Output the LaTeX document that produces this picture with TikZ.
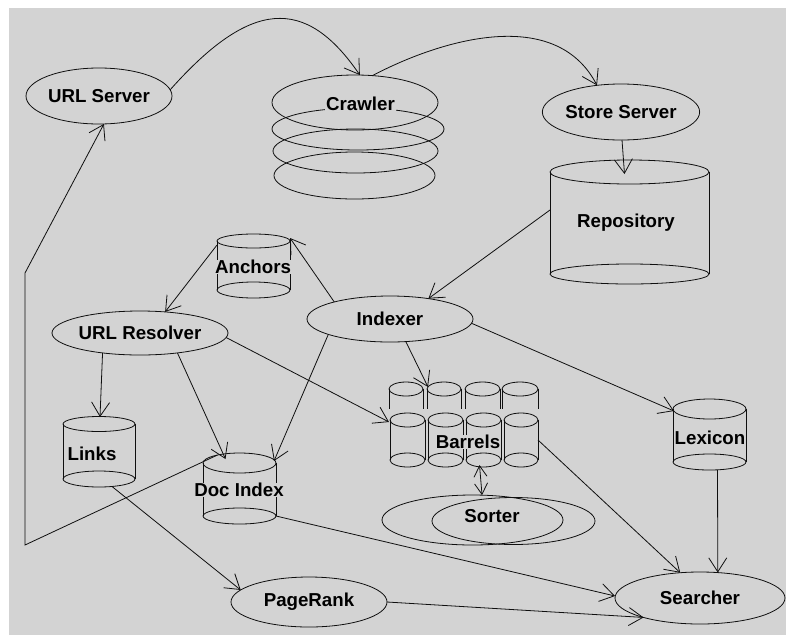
\documentclass[tikz,border=0pt]{standalone}
\usepackage{fontspec}
\setmainfont{Liberation Sans}
\usetikzlibrary{shapes.geometric, arrows.meta, calc}

\definecolor{canvas}{RGB}{211,211,211}
\definecolor{ink}{RGB}{15,15,15}

\newcommand\labelfont{\fontsize{18.7}{20}\selectfont\bfseries}

\tikzset{
  >={Straight Barb[length=14pt,width=18pt]},
  outline/.style={draw=ink, line width=0.8pt},
  flow/.style={outline, ->},
  twoway/.style={outline, {Straight Barb[length=11pt,width=13pt]}-{Straight Barb[length=11pt,width=13pt]}},
  proc/.style={ellipse, outline, inner sep=0pt, outer sep=0pt, font=\labelfont},
  lbl/.style={fill=canvas, inner sep=1pt, font=\labelfont},
  frame/.style={inner sep=0pt, outer sep=0pt},
}

% storage cylinder: name, cx, y of top, y of bottom, x radius, top y radius, bottom y radius
\newcommand\drawcyl[7]{%
  \node[frame, minimum width={2*#5pt}, minimum height={(#4-#3)*1pt}] (#1) at (#2,{(#3+#4)/2}) {};
  \draw[outline] (#2,#3) ellipse [x radius=#5pt, y radius=#6pt];
  \draw[outline] (#2,#4) ellipse [x radius=#5pt, y radius=#7pt];
  \draw[outline] (#1.north west) -- (#1.south west) (#1.north east) -- (#1.south east);
}
% half hidden cylinder of the back row: name, cx, y of top, y where it disappears, x radius, y radius
\newcommand\backcyl[6]{%
  \node[frame, minimum width={2*#5pt}, minimum height={(#4-#3)*1pt}] (#1) at (#2,{(#3+#4)/2}) {};
  \draw[outline] (#2,#3) ellipse [x radius=#5pt, y radius=#6pt];
  \draw[outline] (#1.north west) -- (#1.south west) (#1.north east) -- (#1.south east);
}

\begin{document}
\begin{tikzpicture}[x=1pt, y=-1pt]
\useasboundingbox (0,0) rectangle (786,635);
\fill[white] (0,0) rectangle (786,635);
\fill[canvas] (9,8) rectangle (786,635);

% ---- processes ----
\node[proc, minimum width=146pt, minimum height=56pt] (urlsrv) at (99,96) {URL Server};

\node[proc, minimum width=166pt, minimum height=55pt] (crawler) at (355,102.5) {};
\node[proc, minimum width=172pt, minimum height=42pt] (crawler2) at (358,129) {};
\node[proc, minimum width=165pt, minimum height=44pt] (crawler3) at (355.5,151) {};
\node[proc, minimum width=161pt, minimum height=47pt] (crawler4) at (354.5,175.5) {};
\node[lbl] (crawlerlbl) at (360.5,104) {Crawler};

\node[proc, minimum width=156pt, minimum height=56pt] (storesrv) at (621,112) {Store Server};
\node[proc, minimum width=176pt, minimum height=44pt] (urlres) at (140,333) {URL Resolver};
\node[proc, minimum width=166pt, minimum height=46pt] (indexer) at (390,319) {Indexer};
\node[proc, minimum width=170pt, minimum height=52pt] (searcher) at (700,598) {Searcher};
\node[proc, minimum width=156pt, minimum height=50pt] (pagerank) at (309,602) {PageRank};

\node[proc, minimum width=181pt, minimum height=50pt] (sorterA) at (472.5,520) {};
\node[proc, minimum width=163pt, minimum height=47pt] (sorterB) at (513.5,521) {};
\node[lbl, fill=none] (sorterlbl) at (492,516) {Sorter};

% ---- storage ----
\drawcyl{repo}{629.5}{172}{274}{79.5}{12}{10}
\node[lbl] (repolbl) at (626,223) {Repository};

\drawcyl{anchors}{253.5}{241}{290}{36.5}{7}{8}
\node[lbl, inner sep=0pt] (anchorslbl) at (253,267) {Anchors};

\drawcyl{links}{99}{424}{479}{36}{7.5}{8}
\node[lbl] (linkslbl) at (92,454) {Links};

\drawcyl{docidx}{239.5}{463}{516}{36.5}{10}{8}
\node[lbl, inner sep=0pt] (docidxlbl) at (239,490) {Doc Index};

\drawcyl{lexicon}{709.5}{409}{462}{36.5}{10}{8}
\node[lbl, inner sep=0pt] (lexiconlbl) at (710,438) {Lexicon};

% barrels: back row, then front row
\backcyl{bk1}{406}{389}{409}{17}{7}
\backcyl{bk2}{444}{389}{409}{17}{7}
\backcyl{bk3}{482.5}{389}{409}{17.5}{7}
\backcyl{bk4}{520}{389}{409}{18}{7}
\drawcyl{barrel1}{407.5}{420}{460}{17.5}{7}{7}
\drawcyl{barrel2}{445.5}{420}{460}{17.5}{7}{7}
\drawcyl{barrel3}{483.5}{420}{460}{17.5}{7}{7}
\drawcyl{barrel4}{521}{420}{460}{17}{7}{7}
\node[lbl, inner sep=0pt] (barrelslbl) at (468,442) {Barrels};

% ---- connectors ----
\draw[flow] (urlsrv.5) .. controls (250,0) and (305,-5) .. (crawler.80);
\draw[flow] (crawler.57) .. controls (440,40) and (555,5) .. (storesrv.132);
\draw[flow] ($(storesrv.south)+(1,0)$) -- ($(repo.north)+(-5,2)$);
\draw[flow] ($(repo.west)+(0,-13)$) -- (indexer.28);
\draw[flow] (indexer.163) -- ($(anchors.north east)+(0,-3)$);
\draw[flow] ($(anchors.north west)+(0,4)$) -- (urlres.40);
\draw[flow] (urlres.208) -- ($(links.north)+(1,-7)$);
\draw[flow] (urlres.332) -- ($(docidx.north)+(-14,-4)$);
\draw[flow] (urlres.357) -- ($(barrel1.north west)+(-1,2)$);
\draw[flow] (indexer.194) -- ($(docidx.north east)+(-2,-2)$);
\draw[flow] (indexer.305) -- ($(bk2.north west)+(1,-2)$);
\draw[flow] (indexer.357) -- ($(lexicon.north west)+(1,2)$);
\draw[twoway] ($(barrel3.south)+(-4,5)$) -- (sorterA.69);
\draw[flow] (barrel4.east) -- (searcher.128);
\draw[flow] ($(lexicon.south)+(8,8)$) -- (searcher.55);
\draw[flow] (docidx.south east) -- ($(searcher.west)+(0,-2)$);
\draw[flow] (pagerank.east) -- (searcher.199);
\draw[flow] ($(links.south)+(13,7.5)$) -- (pagerank.170);

\coordinate (bendlow) at (25,545);
\coordinate (bendhigh) at (25,273);
\draw[flow] ($(docidx.north)+(-22,-8)$) -- (bendlow) -- (bendhigh) -- (urlsrv.280);
\end{tikzpicture}
\end{document}
